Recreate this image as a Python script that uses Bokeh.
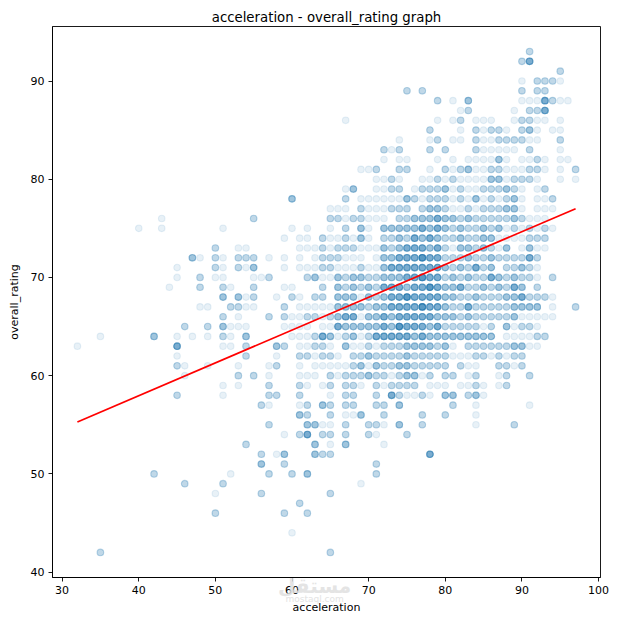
from bokeh.plotting import figure
from bokeh.models import FixedTicker, Range1d, Div
from bokeh.layouts import column
from bokeh.embed import file_html
from bokeh.resources import INLINE
import numpy as np

# acceleration:number_of_players for each overall_rating
rating_rows = {
    93: "91:3",
    92: "90:3 91:8",
    91: "95:3",
    90: "90:1 92:3 93:3 94:3 95:1",
    89: "75:3 77:3 90:3 92:3 93:3",
    88: "79:3 81:1 83:5 90:1 91:1 92:1 93:8 94:3 95:1 96:1",
    87: "82:1 83:3 89:1 91:3 92:3 93:8",
    86: "67:1 79:1 81:1 82:3 84:1 85:1 86:1 89:1 90:3 91:3 92:1 93:1 95:1",
    85: "78:3 82:1 84:3 85:1 86:3 87:3 88:1 90:3 91:5 92:1 94:1 95:1",
    84: "74:1 78:1 79:3 81:1 82:1 84:3 85:1 86:1 87:3 88:3 89:3 90:3 91:1 92:1 95:3",
    83: "72:3 73:1 74:3 78:3 80:3 84:3 85:1 86:1 87:1 88:1 89:1 91:3 95:1",
    82: "72:1 74:1 75:1 79:1 81:1 83:1 84:1 85:1 86:1 87:5 88:1 90:1 91:1 92:3 93:1 95:1 96:1",
    81: "69:1 70:1 71:3 74:3 75:3 78:1 80:3 81:1 82:3 83:5 84:1 85:1 86:3 87:3 88:1 89:1 90:1 91:3 92:3 93:1 95:1 97:3",
    80: "71:1 72:1 73:3 74:1 77:1 78:1 79:3 80:1 81:3 82:1 83:1 84:1 85:1 86:5 87:5 88:1 89:3 90:3 91:3 92:1 95:1 97:1",
    79: "67:1 68:5 71:1 72:1 73:3 74:3 76:1 77:3 78:3 79:3 80:5 81:1 82:3 83:1 84:1 85:3 86:3 87:3 88:5 89:3 90:1 92:1 93:3",
    78: "60:5 67:3 69:1 70:1 71:1 72:1 73:1 74:1 75:5 76:3 77:1 78:3 79:3 80:3 81:1 82:3 83:1 84:5 85:1 86:3 87:1 88:3 89:5 90:1 92:1 93:1 94:3",
    77: "65:1 66:1 67:1 69:3 70:1 71:1 72:1 73:3 74:3 75:3 77:3 78:5 79:5 80:3 81:1 82:1 83:3 84:1 85:3 86:3 87:3 88:5 89:5 90:1 92:1 93:1 94:1",
    76: "43:1 55:3 65:3 66:3 67:1 68:3 69:3 70:1 71:1 72:1 74:3 75:3 76:5 77:5 78:5 79:8 80:5 81:5 82:3 83:5 84:3 85:3 86:3 87:3 88:3 89:5 90:3 91:1 92:1 93:1",
    75: "40:1 43:1 51:1 60:1 62:1 65:1 67:3 69:5 70:1 72:5 73:5 74:5 75:5 76:5 77:8 78:5 79:8 80:5 81:3 82:5 83:3 84:3 85:5 86:3 87:5 88:1 89:3 90:1 91:3 92:1 93:3 94:1",
    74: "59:1 61:1 62:1 64:3 65:1 66:1 67:3 68:1 69:5 70:1 72:3 73:3 74:5 75:3 76:8 77:5 78:8 79:5 80:3 81:3 82:5 83:3 84:3 85:5 86:5 87:1 88:1 89:1 90:1 91:3 92:3 93:3",
    73: "50:3 53:1 54:1 61:1 62:1 63:1 64:3 65:1 66:3 67:3 68:3 69:1 70:1 71:1 72:5 73:3 74:5 75:8 76:8 77:8 78:5 79:8 80:3 81:1 82:5 83:5 84:3 85:5 86:3 87:1 88:5 90:1 91:5 92:1 93:1",
    72: "47:5 48:1 50:3 51:1 53:3 54:3 55:3 57:1 59:1 61:1 63:1 64:3 65:3 66:3 67:1 68:1 69:1 71:1 72:5 73:5 74:8 75:8 76:8 77:12 78:8 79:8 80:3 81:3 82:3 83:5 84:3 85:3 86:5 87:3 88:3 89:3 90:3 91:8 92:3",
    71: "45:1 50:3 51:1 53:3 54:1 55:5 59:1 61:1 62:1 63:1 64:3 65:3 66:1 67:1 68:1 69:3 70:1 71:1 72:5 73:8 74:8 75:8 76:8 77:8 78:8 79:8 80:5 81:3 82:5 83:3 84:8 85:3 86:5 88:3 89:3 90:5 91:3 92:1",
    70: "45:1 48:3 50:1 51:1 55:1 56:1 57:3 62:3 63:5 64:1 65:1 66:5 67:3 68:5 69:5 70:3 71:3 72:5 73:5 74:5 75:8 76:8 77:12 78:8 79:8 80:3 81:5 82:3 83:5 84:3 85:3 86:8 87:5 88:3 89:5 90:3 91:3 92:1 94:3",
    69: "44:1 48:3 51:3 52:1 55:3 59:1 60:1 64:3 66:5 67:3 68:5 69:3 70:5 71:3 72:8 73:8 74:8 75:5 76:8 77:8 78:12 79:8 80:5 81:5 82:8 83:3 84:3 85:5 86:3 87:5 88:3 89:8 90:5 92:3",
    68: "51:5 53:5 54:1 55:3 58:1 60:3 61:1 63:3 64:3 66:5 67:5 68:5 69:1 70:5 71:3 72:5 73:8 74:8 75:12 76:8 77:8 78:8 79:8 80:5 81:5 82:3 83:3 84:5 85:3 86:3 87:3 88:5 89:5 90:8 91:3 92:3 93:3 94:1",
    67: "48:1 49:1 52:3 53:3 54:1 55:1 59:3 61:1 62:1 63:1 64:1 65:1 66:5 67:5 68:5 69:5 70:3 71:5 72:5 73:8 74:8 75:8 76:8 77:12 78:8 79:8 80:5 81:3 82:3 83:8 84:3 85:3 86:3 87:3 88:3 89:5 90:5 91:5 92:5 94:1 97:3",
    66: "51:3 53:1 57:3 59:3 60:1 61:1 62:3 63:3 64:1 65:3 66:5 67:8 68:8 69:1 70:5 71:5 72:8 73:5 74:8 75:8 76:8 77:8 78:8 79:5 80:5 81:5 82:3 83:5 84:3 85:3 86:3 87:3 88:3 89:5 90:1 91:1 92:1 93:1 94:1",
    65: "46:3 49:3 51:5 52:1 53:1 54:1 59:1 60:1 61:1 62:1 64:1 65:1 66:8 67:5 68:5 69:5 70:5 71:5 72:8 73:5 74:12 75:8 76:8 77:8 78:5 79:8 80:3 81:3 82:3 83:3 84:3 85:1 86:3 88:5 89:1 90:3 91:3 92:1",
    64: "35:1 42:5 45:1 47:1 49:1 51:3 52:1 54:5 60:1 61:1 62:1 63:3 64:8 65:5 66:1 67:3 68:5 69:1 70:3 71:8 72:8 73:8 74:8 75:8 76:5 77:8 78:5 79:5 80:5 81:5 82:5 83:5 84:5 85:5 86:5 88:1 89:1 90:1 91:1 92:3 93:3",
    63: "32:1 45:8 51:1 52:1 54:3 58:5 59:3 61:1 62:1 63:3 64:3 65:1 67:5 68:1 69:1 70:3 71:1 72:3 73:3 74:3 75:5 76:5 77:5 78:5 79:3 80:5 81:1 83:3 84:3 85:3 86:3 87:3 88:3 89:5 90:5 91:1 92:1",
    62: "45:1 54:3 58:1 61:3 62:3 63:1 64:3 65:3 66:1 68:3 69:3 70:5 71:3 72:3 73:3 74:3 75:5 76:3 77:3 78:3 79:3 80:3 81:1 82:1 83:1 84:3 85:3 86:1 87:3 88:1 89:3 90:3",
    61: "45:3 46:1 49:1 53:1 57:1 58:3 61:1 63:1 64:1 65:1 66:1 67:1 68:3 69:5 70:1 71:5 72:3 73:3 74:5 75:5 76:3 77:3 78:3 79:3 80:3 82:3 83:1 84:1 87:3 88:3 89:1 90:3",
    60: "46:1 53:3 55:3 57:1 61:1 62:1 63:1 65:3 66:1 67:3 68:3 69:3 70:5 71:3 72:3 73:1 74:3 75:5 76:5 77:1 78:3 80:3 81:3 83:1 84:3 87:1 88:3 91:3",
    59: "51:1 53:1 57:3 61:3 62:1 64:1 65:3 67:3 68:3 69:1 71:3 72:1 73:3 74:3 75:3 76:3 78:1 79:1 80:1 82:1 83:1 84:3 85:1 87:1 88:3",
    58: "45:3 51:1 57:3 58:3 61:3 65:1 67:3 68:3 71:3 73:8 74:3 75:1 76:1 77:3 78:1 80:5 81:5 83:3 84:5 85:1",
    57: "56:3 57:1 61:1 62:3 64:5 65:3 67:3 68:3 71:3 72:3 74:5 81:3 84:1 91:1",
    56: "61:5 62:3 65:3 67:1 68:1 69:5 72:3 77:3 80:3 84:1",
    55: "57:3 62:5 63:5 64:1 65:1 67:3 70:3 71:3 72:1 74:5 77:3 84:1 89:3",
    54: "59:1 61:3 62:8 64:3 65:3 67:3 70:3 71:1 75:3",
    53: "54:3 63:5 65:1 67:5 72:1",
    52: "56:3 58:1 59:5 63:5 64:3 65:3 78:8",
    51: "56:5 59:3 71:3",
    50: "42:3 52:1 57:3 60:3 62:5 71:3",
    49: "46:3 51:3 69:1",
    48: "50:1 56:3 65:3",
    47: "61:3",
    46: "50:3 59:3 62:3",
    44: "60:1",
    42: "35:3 65:3",
}

# fitted line overall_rating = intercept + slope * acceleration
reg_slope = 0.334
reg_intercept = 44.6

x_ticks = [30, 40, 50, 60, 70, 80, 90, 100]
y_ticks = [40, 50, 60, 70, 80, 90]

acceleration, overall_rating, player_count = [], [], []
for r, s in rating_rows.items():
    for item in s.split():
        a, n = item.split(":")
        acceleration.append(int(a))
        overall_rating.append(r)
        player_count.append(int(n))

acc_all = np.repeat(np.array(acceleration), player_count)
rat_all = np.repeat(np.array(overall_rating), player_count)

x_lo, x_hi = min(acceleration), max(acceleration)
xpad = (x_hi - x_lo) * 0.05
y_lo, y_hi = min(overall_rating), max(overall_rating)
ypad = (y_hi - y_lo) * 0.05

p = figure(width=630, height=624, output_backend="svg", toolbar_location=None,
           x_range=Range1d(x_lo - xpad, x_hi + xpad),
           y_range=Range1d(y_lo - ypad, y_hi + ypad),
           title="acceleration - overall_rating graph",
           min_border_left=52, min_border_right=30,
           min_border_top=26, min_border_bottom=47)

p.scatter(acc_all, rat_all, size=6.6, line_width=1.1, color="#1f77b4",
          fill_alpha=0.1, line_alpha=0.1)

line_x = np.array([x_lo, x_hi])
p.line(line_x, reg_intercept + reg_slope * line_x, color="red", line_width=1.7)

p.grid.visible = False
p.background_fill_color = "white"
p.border_fill_color = "white"
p.outline_line_color = "black"
p.outline_line_width = 0.9

p.title.align = "center"
p.title.text_font = "DejaVu Sans"
p.title.text_font_size = "13.3px"
p.title.text_font_style = "normal"
p.title.text_color = "black"
p.title.standoff = 4

for ax in (p.xaxis[0], p.yaxis[0]):
    ax.axis_line_color = "black"
    ax.axis_line_width = 0.9
    ax.major_tick_line_color = "black"
    ax.major_tick_line_width = 0.9
    ax.major_tick_in = 0
    ax.major_tick_out = 4
    ax.minor_tick_line_color = None
    ax.major_label_text_font = "DejaVu Sans"
    ax.major_label_text_font_size = "11px"
    ax.major_label_text_color = "black"
    ax.major_label_standoff = 4
    ax.axis_label_text_font = "DejaVu Sans"
    ax.axis_label_text_font_size = "11px"
    ax.axis_label_text_font_style = "normal"
    ax.axis_label_text_color = "black"

p.xaxis.axis_label_standoff = 4
p.yaxis.axis_label_standoff = 7
p.xaxis.ticker = FixedTicker(ticks=x_ticks)
p.yaxis.ticker = FixedTicker(ticks=y_ticks)
p.xaxis.axis_label = "acceleration"
p.yaxis.axis_label = "overall_rating"

# faint site watermark overlapping the bottom axis area
wm = Div(text=('<div style="text-align:center;color:#e0e0e0;font-family:\'DejaVu Sans\';'
               'line-height:1;opacity:0.85">'
               '<div style="font-size:20px;font-weight:bold">مستقل</div>'
               '<div style="font-size:9px;margin-top:-1px">mostaql.com</div></div>'),
         width=80, height=32,
         styles={"margin-top": "-48px", "margin-left": "278px", "pointer-events": "none"})

layout = column(p, wm, spacing=0)

open("out.html", "w").write(file_html(layout, INLINE))
